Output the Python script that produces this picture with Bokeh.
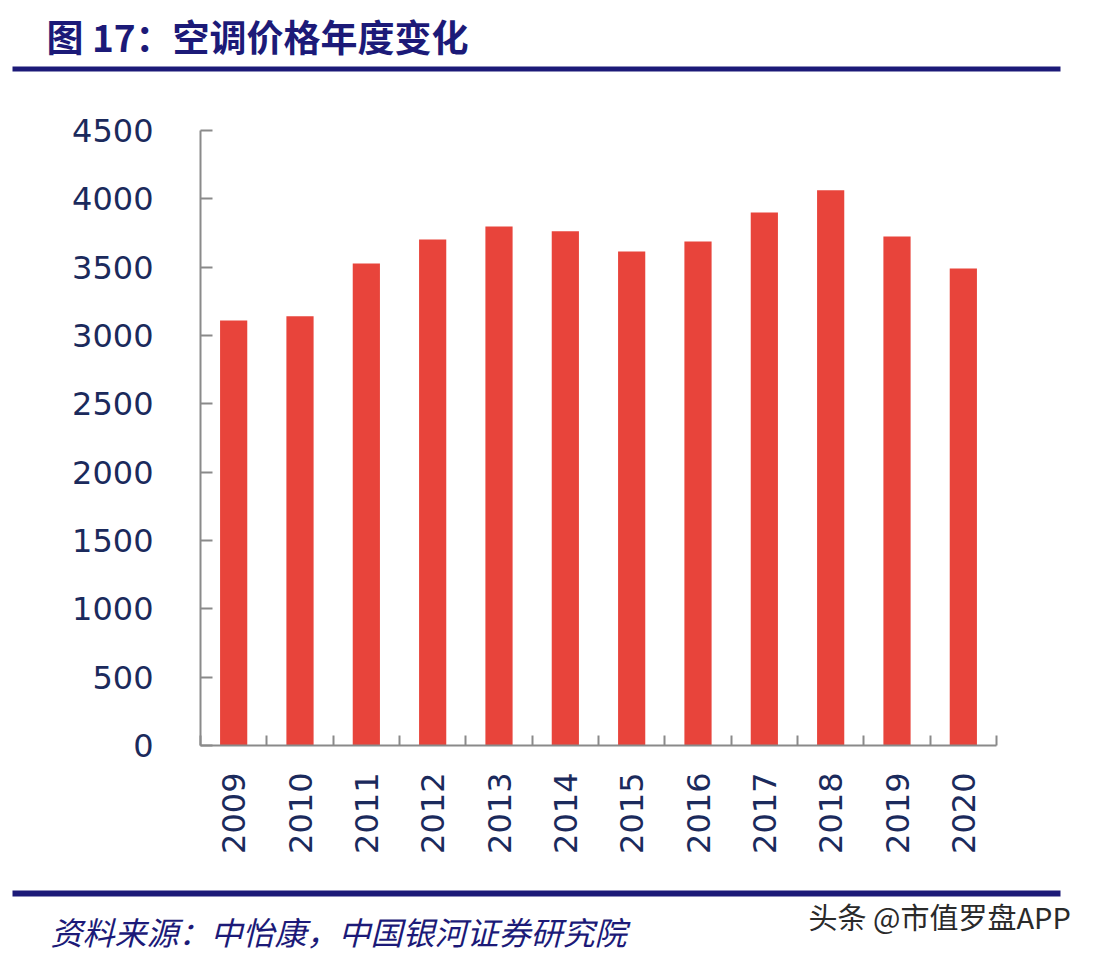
from bokeh.plotting import figure
from bokeh.models import FixedTicker, Label, BoxAnnotation, ColumnDataSource
from bokeh.layouts import column, row
from bokeh.embed import file_html
from bokeh.resources import INLINE
import math

years = ["2009", "2010", "2011", "2012", "2013", "2014", "2015", "2016", "2017", "2018", "2019", "2020"]
prices = [3110, 3140, 3527, 3702, 3798, 3762, 3615, 3688, 3900, 4062, 3724, 3490]
y_ticks = [0, 500, 1000, 1500, 2000, 2500, 3000, 3500, 4000, 4500]
title_text = "图 17：空调价格年度变化"
source_text = "资料来源：中怡康，中国银河证券研究院"
mark_text = "头条 @市值罗盘APP"

NAVY = "#1b2a5c"
RULE = "#1c1a78"
BAR = "#E8443B"
AX = "#8a8a8a"
W = 1080


def blank(h):
    f = figure(width=W, height=h, output_backend="svg", toolbar_location=None,
               x_range=(0, W), y_range=(0, h),
               min_border_left=0, min_border_right=0, min_border_top=0, min_border_bottom=0)
    f.axis.visible = False
    f.grid.grid_line_color = None
    f.outline_line_color = None
    return f


# ---- header (data units = pixels from the figure's bottom-left) ----
TH = 100
top = blank(TH)
top.add_layout(Label(x=46, y=TH - 35, text=title_text, text_baseline="middle",
                     text_font="Noto Sans CJK SC", text_font_style="bold", text_font_size="37px",
                     text_color=RULE))
top.add_layout(BoxAnnotation(left=12, right=1060, top=TH - 66, bottom=TH - 71,
                             fill_color=RULE, fill_alpha=1, line_color=None))

# ---- main chart ----
MH = 770
p = figure(width=W, height=MH, output_backend="svg", toolbar_location=None,
           x_range=(0, len(years)), y_range=(0, 4500),
           min_border_left=200, min_border_right=84, min_border_top=30, min_border_bottom=125)
p.outline_line_color = None
p.grid.grid_line_color = None

centers = [i + 0.5 for i in range(len(years))]
src = ColumnDataSource(dict(x=centers, top=prices))
p.vbar(x="x", top="top", width=0.41, bottom=0, source=src, fill_color=BAR, line_color=None)

xa = p.xaxis[0]
xa.ticker = FixedTicker(ticks=centers, minor_ticks=list(range(len(years) + 1)))
xa.major_label_overrides = {c: y for c, y in zip(centers, years)}
xa.major_tick_line_color = None
xa.minor_tick_in = 10
xa.minor_tick_out = 0
xa.minor_tick_line_color = AX
xa.minor_tick_line_width = 2
xa.axis_line_color = AX
xa.axis_line_width = 2
xa.major_label_orientation = math.pi / 2
xa.major_label_standoff = 21
xa.major_label_text_font = "DejaVu Sans"
xa.major_label_text_font_size = "32px"
xa.major_label_text_color = NAVY

ya = p.yaxis[0]
ya.ticker = FixedTicker(ticks=y_ticks)
ya.major_tick_in = 12
ya.major_tick_out = 0
ya.major_tick_line_color = AX
ya.major_tick_line_width = 2
ya.minor_tick_line_color = None
ya.axis_line_color = AX
ya.axis_line_width = 2
ya.major_label_standoff = 47
ya.major_label_text_font = "DejaVu Sans"
ya.major_label_text_font_size = "32px"
ya.major_label_text_color = NAVY

# ---- footer ----
BH = 84
bot = blank(BH)
bot.add_layout(BoxAnnotation(left=12, right=1060, top=BH - 20, bottom=BH - 26,
                             fill_color=RULE, fill_alpha=1, line_color=None))
bot.add_layout(Label(x=50, y=BH - 60, text=source_text, text_baseline="middle",
                     text_font="Noto Sans CJK SC", text_font_style="italic", text_font_size="32px",
                     text_color=RULE))
bot.add_layout(Label(x=808, y=BH - 45, text=mark_text, text_baseline="middle",
                     text_font="Noto Sans CJK SC", text_font_size="29px", text_color="#2a2a2a"))

layout = column(row(top), row(p), row(bot), spacing=0)
open("out.html", "w").write(file_html(layout, INLINE))
